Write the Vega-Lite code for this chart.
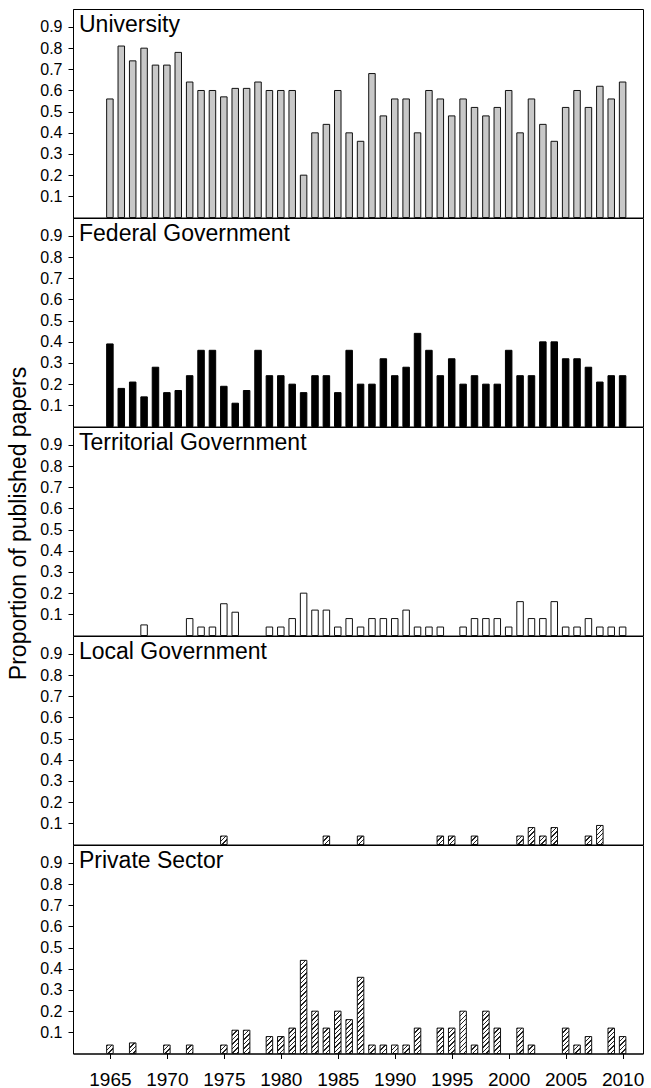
{
  "$schema": "https://vega.github.io/schema/vega-lite/v6.json",
  "padding": {"left": 6, "top": 8, "right": 6, "bottom": 2},
  "spacing": 0,
  "bounds": "flush",
  "params": [
    {"name": "hatchStops", "value": [
      {"offset": 0, "color": "#222"}, {"offset": 0.013, "color": "#222"}, {"offset": 0.013, "color": "#fff"}, {"offset": 0.04, "color": "#fff"},
      {"offset": 0.04, "color": "#222"}, {"offset": 0.053, "color": "#222"}, {"offset": 0.053, "color": "#fff"}, {"offset": 0.08, "color": "#fff"},
      {"offset": 0.08, "color": "#222"}, {"offset": 0.093, "color": "#222"}, {"offset": 0.093, "color": "#fff"}, {"offset": 0.12, "color": "#fff"},
      {"offset": 0.12, "color": "#222"}, {"offset": 0.133, "color": "#222"}, {"offset": 0.133, "color": "#fff"}, {"offset": 0.16, "color": "#fff"},
      {"offset": 0.16, "color": "#222"}, {"offset": 0.173, "color": "#222"}, {"offset": 0.173, "color": "#fff"}, {"offset": 0.2, "color": "#fff"},
      {"offset": 0.2, "color": "#222"}, {"offset": 0.213, "color": "#222"}, {"offset": 0.213, "color": "#fff"}, {"offset": 0.24, "color": "#fff"},
      {"offset": 0.24, "color": "#222"}, {"offset": 0.253, "color": "#222"}, {"offset": 0.253, "color": "#fff"}, {"offset": 0.28, "color": "#fff"},
      {"offset": 0.28, "color": "#222"}, {"offset": 0.293, "color": "#222"}, {"offset": 0.293, "color": "#fff"}, {"offset": 0.32, "color": "#fff"},
      {"offset": 0.32, "color": "#222"}, {"offset": 0.333, "color": "#222"}, {"offset": 0.333, "color": "#fff"}, {"offset": 0.36, "color": "#fff"},
      {"offset": 0.36, "color": "#222"}, {"offset": 0.373, "color": "#222"}, {"offset": 0.373, "color": "#fff"}, {"offset": 0.4, "color": "#fff"},
      {"offset": 0.4, "color": "#222"}, {"offset": 0.413, "color": "#222"}, {"offset": 0.413, "color": "#fff"}, {"offset": 0.44, "color": "#fff"},
      {"offset": 0.44, "color": "#222"}, {"offset": 0.453, "color": "#222"}, {"offset": 0.453, "color": "#fff"}, {"offset": 0.48, "color": "#fff"},
      {"offset": 0.48, "color": "#222"}, {"offset": 0.493, "color": "#222"}, {"offset": 0.493, "color": "#fff"}, {"offset": 0.52, "color": "#fff"},
      {"offset": 0.52, "color": "#222"}, {"offset": 0.533, "color": "#222"}, {"offset": 0.533, "color": "#fff"}, {"offset": 0.56, "color": "#fff"},
      {"offset": 0.56, "color": "#222"}, {"offset": 0.573, "color": "#222"}, {"offset": 0.573, "color": "#fff"}, {"offset": 0.6, "color": "#fff"},
      {"offset": 0.6, "color": "#222"}, {"offset": 0.613, "color": "#222"}, {"offset": 0.613, "color": "#fff"}, {"offset": 0.64, "color": "#fff"},
      {"offset": 0.64, "color": "#222"}, {"offset": 0.653, "color": "#222"}, {"offset": 0.653, "color": "#fff"}, {"offset": 0.68, "color": "#fff"},
      {"offset": 0.68, "color": "#222"}, {"offset": 0.693, "color": "#222"}, {"offset": 0.693, "color": "#fff"}, {"offset": 0.72, "color": "#fff"},
      {"offset": 0.72, "color": "#222"}, {"offset": 0.733, "color": "#222"}, {"offset": 0.733, "color": "#fff"}, {"offset": 0.76, "color": "#fff"},
      {"offset": 0.76, "color": "#222"}, {"offset": 0.773, "color": "#222"}, {"offset": 0.773, "color": "#fff"}, {"offset": 0.8, "color": "#fff"},
      {"offset": 0.8, "color": "#222"}, {"offset": 0.813, "color": "#222"}, {"offset": 0.813, "color": "#fff"}, {"offset": 0.84, "color": "#fff"},
      {"offset": 0.84, "color": "#222"}, {"offset": 0.853, "color": "#222"}, {"offset": 0.853, "color": "#fff"}, {"offset": 0.88, "color": "#fff"},
      {"offset": 0.88, "color": "#222"}, {"offset": 0.893, "color": "#222"}, {"offset": 0.893, "color": "#fff"}, {"offset": 0.92, "color": "#fff"},
      {"offset": 0.92, "color": "#222"}, {"offset": 0.933, "color": "#222"}, {"offset": 0.933, "color": "#fff"}, {"offset": 0.96, "color": "#fff"},
      {"offset": 0.96, "color": "#222"}, {"offset": 0.973, "color": "#222"}, {"offset": 0.973, "color": "#fff"}, {"offset": 1, "color": "#fff"}
    ]}
  ],
  "datasets": {
    "university": [
      {"year": 1965, "value": 0.56}, {"year": 1966, "value": 0.81}, {"year": 1967, "value": 0.74}, {"year": 1968, "value": 0.8},
      {"year": 1969, "value": 0.72}, {"year": 1970, "value": 0.72}, {"year": 1971, "value": 0.78}, {"year": 1972, "value": 0.64},
      {"year": 1973, "value": 0.6}, {"year": 1974, "value": 0.6}, {"year": 1975, "value": 0.57}, {"year": 1976, "value": 0.61},
      {"year": 1977, "value": 0.61}, {"year": 1978, "value": 0.64}, {"year": 1979, "value": 0.6}, {"year": 1980, "value": 0.6},
      {"year": 1981, "value": 0.6}, {"year": 1982, "value": 0.2}, {"year": 1983, "value": 0.4}, {"year": 1984, "value": 0.44},
      {"year": 1985, "value": 0.6}, {"year": 1986, "value": 0.4}, {"year": 1987, "value": 0.36}, {"year": 1988, "value": 0.68},
      {"year": 1989, "value": 0.48}, {"year": 1990, "value": 0.56}, {"year": 1991, "value": 0.56}, {"year": 1992, "value": 0.4},
      {"year": 1993, "value": 0.6}, {"year": 1994, "value": 0.56}, {"year": 1995, "value": 0.48}, {"year": 1996, "value": 0.56},
      {"year": 1997, "value": 0.52}, {"year": 1998, "value": 0.48}, {"year": 1999, "value": 0.52}, {"year": 2000, "value": 0.6},
      {"year": 2001, "value": 0.4}, {"year": 2002, "value": 0.56}, {"year": 2003, "value": 0.44}, {"year": 2004, "value": 0.36},
      {"year": 2005, "value": 0.52}, {"year": 2006, "value": 0.6}, {"year": 2007, "value": 0.52}, {"year": 2008, "value": 0.62},
      {"year": 2009, "value": 0.56}, {"year": 2010, "value": 0.64}
    ],
    "federal": [
      {"year": 1965, "value": 0.39}, {"year": 1966, "value": 0.18}, {"year": 1967, "value": 0.21}, {"year": 1968, "value": 0.14},
      {"year": 1969, "value": 0.28}, {"year": 1970, "value": 0.16}, {"year": 1971, "value": 0.17}, {"year": 1972, "value": 0.24},
      {"year": 1973, "value": 0.36}, {"year": 1974, "value": 0.36}, {"year": 1975, "value": 0.19}, {"year": 1976, "value": 0.11},
      {"year": 1977, "value": 0.17}, {"year": 1978, "value": 0.36}, {"year": 1979, "value": 0.24}, {"year": 1980, "value": 0.24},
      {"year": 1981, "value": 0.2}, {"year": 1982, "value": 0.16}, {"year": 1983, "value": 0.24}, {"year": 1984, "value": 0.24},
      {"year": 1985, "value": 0.16}, {"year": 1986, "value": 0.36}, {"year": 1987, "value": 0.2}, {"year": 1988, "value": 0.2},
      {"year": 1989, "value": 0.32}, {"year": 1990, "value": 0.24}, {"year": 1991, "value": 0.28}, {"year": 1992, "value": 0.44},
      {"year": 1993, "value": 0.36}, {"year": 1994, "value": 0.24}, {"year": 1995, "value": 0.32}, {"year": 1996, "value": 0.2},
      {"year": 1997, "value": 0.24}, {"year": 1998, "value": 0.2}, {"year": 1999, "value": 0.2}, {"year": 2000, "value": 0.36},
      {"year": 2001, "value": 0.24}, {"year": 2002, "value": 0.24}, {"year": 2003, "value": 0.4}, {"year": 2004, "value": 0.4},
      {"year": 2005, "value": 0.32}, {"year": 2006, "value": 0.32}, {"year": 2007, "value": 0.28}, {"year": 2008, "value": 0.21},
      {"year": 2009, "value": 0.24}, {"year": 2010, "value": 0.24}
    ],
    "territorial": [
      {"year": 1968, "value": 0.05}, {"year": 1972, "value": 0.08}, {"year": 1973, "value": 0.04}, {"year": 1974, "value": 0.04},
      {"year": 1975, "value": 0.15}, {"year": 1976, "value": 0.11}, {"year": 1979, "value": 0.04}, {"year": 1980, "value": 0.04},
      {"year": 1981, "value": 0.08}, {"year": 1982, "value": 0.2}, {"year": 1983, "value": 0.12}, {"year": 1984, "value": 0.12},
      {"year": 1985, "value": 0.04}, {"year": 1986, "value": 0.08}, {"year": 1987, "value": 0.04}, {"year": 1988, "value": 0.08},
      {"year": 1989, "value": 0.08}, {"year": 1990, "value": 0.08}, {"year": 1991, "value": 0.12}, {"year": 1992, "value": 0.04},
      {"year": 1993, "value": 0.04}, {"year": 1994, "value": 0.04}, {"year": 1996, "value": 0.04}, {"year": 1997, "value": 0.08},
      {"year": 1998, "value": 0.08}, {"year": 1999, "value": 0.08}, {"year": 2000, "value": 0.04}, {"year": 2001, "value": 0.16},
      {"year": 2002, "value": 0.08}, {"year": 2003, "value": 0.08}, {"year": 2004, "value": 0.16}, {"year": 2005, "value": 0.04},
      {"year": 2006, "value": 0.04}, {"year": 2007, "value": 0.08}, {"year": 2008, "value": 0.04}, {"year": 2009, "value": 0.04},
      {"year": 2010, "value": 0.04}
    ],
    "local": [
      {"year": 1975, "value": 0.04}, {"year": 1984, "value": 0.04}, {"year": 1987, "value": 0.04}, {"year": 1994, "value": 0.04},
      {"year": 1995, "value": 0.04}, {"year": 1997, "value": 0.04}, {"year": 2001, "value": 0.04}, {"year": 2002, "value": 0.08},
      {"year": 2003, "value": 0.04}, {"year": 2004, "value": 0.08}, {"year": 2007, "value": 0.04}, {"year": 2008, "value": 0.09}
    ],
    "private": [
      {"year": 1965, "value": 0.04}, {"year": 1967, "value": 0.05}, {"year": 1970, "value": 0.04}, {"year": 1972, "value": 0.04},
      {"year": 1975, "value": 0.04}, {"year": 1976, "value": 0.11}, {"year": 1977, "value": 0.11}, {"year": 1979, "value": 0.08},
      {"year": 1980, "value": 0.08}, {"year": 1981, "value": 0.12}, {"year": 1982, "value": 0.44}, {"year": 1983, "value": 0.2},
      {"year": 1984, "value": 0.12}, {"year": 1985, "value": 0.2}, {"year": 1986, "value": 0.16}, {"year": 1987, "value": 0.36},
      {"year": 1988, "value": 0.04}, {"year": 1989, "value": 0.04}, {"year": 1990, "value": 0.04}, {"year": 1991, "value": 0.04},
      {"year": 1992, "value": 0.12}, {"year": 1994, "value": 0.12}, {"year": 1995, "value": 0.12}, {"year": 1996, "value": 0.2},
      {"year": 1997, "value": 0.04}, {"year": 1998, "value": 0.2}, {"year": 1999, "value": 0.12}, {"year": 2001, "value": 0.12},
      {"year": 2002, "value": 0.04}, {"year": 2005, "value": 0.12}, {"year": 2006, "value": 0.04}, {"year": 2007, "value": 0.08},
      {"year": 2009, "value": 0.12}, {"year": 2010, "value": 0.08}
    ]
  },
  "vconcat": [
    {
      "width": 570, "height": 208.5,
      "title": {"text": "University"},
      "data": {"name": "university"},
      "mark": {"type": "bar", "size": 6.5, "fill": "#c8c8c8", "stroke": "#111", "strokeWidth": 1},
      "encoding": {
        "x": {"field": "year", "type": "quantitative", "scale": {"domain": [1962.2, 2011.35], "nice": false, "zero": false}, "axis": null},
        "y": {"field": "value", "type": "quantitative", "scale": {"domain": [0, 0.985], "nice": false},
              "axis": {
                "values": [0.1, 0.2, 0.3, 0.4, 0.5, 0.6, 0.7, 0.8, 0.9], "format": ".1f",
                "title": "Proportion of published papers",
                "titleFontSize": 23, "titleFontWeight": "normal", "titleAngle": -90,
                "titleX": -48, "titleY": 514, "titleAlign": "center", "titleBaseline": "alphabetic"
              }}
      }
    },
    {
      "width": 570, "height": 208.5,
      "title": {"text": "Federal Government"},
      "data": {"name": "federal"},
      "mark": {"type": "bar", "size": 6.5, "fill": "#000", "stroke": "#000", "strokeWidth": 1},
      "encoding": {
        "x": {"field": "year", "type": "quantitative", "scale": {"domain": [1962.2, 2011.35], "nice": false, "zero": false}, "axis": null},
        "y": {"field": "value", "type": "quantitative", "scale": {"domain": [0, 0.985], "nice": false},
              "axis": {"title": null, "values": [0.1, 0.2, 0.3, 0.4, 0.5, 0.6, 0.7, 0.8, 0.9], "format": ".1f"}}
      }
    },
    {
      "width": 570, "height": 208.5,
      "title": {"text": "Territorial Government"},
      "data": {"name": "territorial"},
      "mark": {"type": "bar", "size": 6.5, "fill": "#fff", "stroke": "#111", "strokeWidth": 1},
      "encoding": {
        "x": {"field": "year", "type": "quantitative", "scale": {"domain": [1962.2, 2011.35], "nice": false, "zero": false}, "axis": null},
        "y": {"field": "value", "type": "quantitative", "scale": {"domain": [0, 0.985], "nice": false},
              "axis": {"title": null, "values": [0.1, 0.2, 0.3, 0.4, 0.5, 0.6, 0.7, 0.8, 0.9], "format": ".1f"}}
      }
    },
    {
      "width": 570, "height": 208.5,
      "title": {"text": "Local Government"},
      "data": {"name": "local"},
      "mark": {
        "type": "bar", "size": 6.5, "stroke": "#111", "strokeWidth": 1,
        "fill": {"expr": "{gradient: 'linear', x1: 0, y1: 0, x2: 17.3077 / (1 + pow(32.566 * datum.value, 2)), y2: 17.3077 * 32.566 * datum.value / (1 + pow(32.566 * datum.value, 2)), stops: hatchStops}"}
      },
      "encoding": {
        "x": {"field": "year", "type": "quantitative", "scale": {"domain": [1962.2, 2011.35], "nice": false, "zero": false}, "axis": null},
        "y": {"field": "value", "type": "quantitative", "scale": {"domain": [0, 0.985], "nice": false},
              "axis": {"title": null, "values": [0.1, 0.2, 0.3, 0.4, 0.5, 0.6, 0.7, 0.8, 0.9], "format": ".1f"}}
      }
    },
    {
      "width": 570, "height": 208.5,
      "title": {"text": "Private Sector"},
      "data": {"name": "private"},
      "mark": {
        "type": "bar", "size": 6.5, "stroke": "#111", "strokeWidth": 1,
        "fill": {"expr": "{gradient: 'linear', x1: 0, y1: 0, x2: 17.3077 / (1 + pow(32.566 * datum.value, 2)), y2: 17.3077 * 32.566 * datum.value / (1 + pow(32.566 * datum.value, 2)), stops: hatchStops}"}
      },
      "encoding": {
        "x": {
          "field": "year", "type": "quantitative", "scale": {"domain": [1962.2, 2011.35], "nice": false, "zero": false},
          "axis": {
            "title": null, "values": [1965, 1970, 1975, 1980, 1985, 1990, 1995, 2000, 2005, 2010], "format": "d",
            "labelFontSize": 19, "tickSize": 5, "labelPadding": 12, "labelFlush": false, "labelOverlap": false
          }
        },
        "y": {"field": "value", "type": "quantitative", "scale": {"domain": [0, 0.985], "nice": false},
              "axis": {"title": null, "values": [0.1, 0.2, 0.3, 0.4, 0.5, 0.6, 0.7, 0.8, 0.9], "format": ".1f"}}
      }
    }
  ],
  "config": {
    "font": "Liberation Sans",
    "background": "#ffffff",
    "view": {"stroke": "#000", "strokeWidth": 1},
    "axis": {
      "grid": false, "domainColor": "#000", "tickColor": "#000", "labelColor": "#000", "titleColor": "#000",
      "labelFont": "Liberation Sans", "titleFont": "Liberation Sans"
    },
    "axisY": {"labelFontSize": 16, "tickSize": 5, "labelPadding": 6, "labelFlush": false, "labelOverlap": false},
    "title": {
      "anchor": "start", "frame": "group", "orient": "top", "offset": -28, "dx": 6,
      "baseline": "alphabetic", "fontSize": 23, "fontWeight": "normal", "font": "Liberation Sans", "color": "#000"
    }
  }
}
